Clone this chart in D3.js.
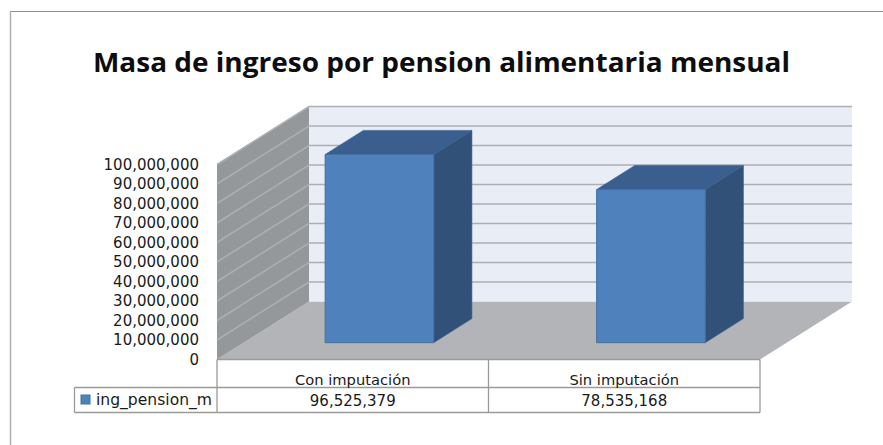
<!DOCTYPE html>
<html>
<head>
<meta charset="utf-8">
<script src="https://cdn.jsdelivr.net/npm/d3@7"></script>
<style>
  html, body { margin: 0; padding: 0; background: #fff; }
  svg { display: block; }
  text { font-family: "DejaVu Sans", sans-serif; fill: #1a1a1a; }
</style>
</head>
<body>
<div id="chart"></div>
<script>
// --------------------------------------------------------
// DATA
// --------------------------------------------------------
const titleText = "Masa de ingreso por pension alimentaria mensual";
const categories = ["Con imputación", "Sin imputación"];
const values = [96525379, 78535168];
const seriesName = "ing_pension_m";
const yTicks = [0, 10000000, 20000000, 30000000, 40000000, 50000000, 60000000, 70000000, 80000000, 90000000, 100000000];

// --------------------------------------------------------
// VARIABLES
// --------------------------------------------------------
const width = 883;
const height = 445;
const depthX = 92; // shift of the back wall
const depthY = -58;
const barDepthStart = 0.29;
const barDepthEnd = 0.705;

const x = d3.scaleBand().domain(categories).range([217, 760]).paddingInner(0.6).paddingOuter(0.3);
const y = d3.scaleLinear().domain([0, 100000000]).range([359.5, 164.5]);
const fmt = d3.format(",");

// front-plane position pushed back by depth d (0 to 1)
const pt = (px, py, d) => [px + d * depthX, py + d * depthY];
const poly = (pts) => d3.line()(pts) + "Z";

const svg = d3.select("#chart").append("svg").attr("width", width).attr("height", height);

// chart frame, only top and left edges are in the picture
svg.append("line")
  .attr("x1", 10).attr("x2", width).attr("y1", 11.5).attr("y2", 11.5)
  .attr("stroke", "#8f8f8f");
svg.append("line")
  .attr("x1", 10.5).attr("x2", 10.5).attr("y1", 11).attr("y2", height)
  .attr("stroke", "#b0b0b0").attr("stroke-width", 1.5);

// the title is stretched sideways in the reference
svg.append("text")
  .attr("x", 441.5).attr("y", 71.5)
  .attr("text-anchor", "middle")
  .attr("font-size", 26).attr("font-weight", 700)
  .attr("textLength", 697).attr("lengthAdjust", "spacingAndGlyphs")
  .style("font-family", '"Open Sans", sans-serif')
  .style("fill", "#0d0d0d")
  .text(titleText);

// --------------------------------------------------------
// WALLS AND FLOOR
// --------------------------------------------------------
const [x0, x1] = x.range();
const [yBase, yTop] = y.range();

// floor
svg.append("path")
  .attr("d", poly([pt(x0, yBase, 0), pt(x1, yBase, 0), pt(x1, yBase, 1), pt(x0, yBase, 1)]))
  .attr("fill", "#b2b4b7");

// back wall
svg.append("path")
  .attr("d", poly([pt(x0, yTop, 1), pt(x1, yTop, 1), pt(x1, yBase, 1), pt(x0, yBase, 1)]))
  .attr("fill", "#e9edf6");

// side wall
svg.append("path")
  .attr("d", poly([pt(x0, yTop, 0), pt(x0, yTop, 1), pt(x0, yBase, 1), pt(x0, yBase, 0)]))
  .attr("fill", "#95989b");

// gridlines run along the side wall and across the back wall
svg.append("g").selectAll("path")
  .data(yTicks.filter((d) => d > 0))
  .join("path")
  .attr("d", (d) => d3.line()([pt(x0, y(d), 0), pt(x0, y(d), 1), pt(x1, y(d), 1)]))
  .attr("fill", "none")
  .attr("stroke", "#adafb3")
  .attr("stroke-width", 1.5);

// --------------------------------------------------------
// BARS
// --------------------------------------------------------
const bars = svg.append("g").selectAll("g")
  .data(categories.map((c, i) => ({ c, v: values[i] })))
  .join("g");

// top face
bars.append("path")
  .attr("d", (d) => {
    const l = x(d.c), r = l + x.bandwidth(), t = y(d.v);
    return poly([pt(l, t, barDepthStart), pt(r, t, barDepthStart), pt(r, t, barDepthEnd), pt(l, t, barDepthEnd)]);
  })
  .attr("fill", "#3a5f8e")
  .attr("stroke", "#3a5f8e")
  .attr("stroke-width", 0.6);

// side face
bars.append("path")
  .attr("d", (d) => {
    const r = x(d.c) + x.bandwidth(), t = y(d.v);
    return poly([pt(r, t, barDepthStart), pt(r, t, barDepthEnd), pt(r, yBase, barDepthEnd), pt(r, yBase, barDepthStart)]);
  })
  .attr("fill", "#315178")
  .attr("stroke", "#3a5f8e")
  .attr("stroke-width", 0.6);

// front face
bars.append("path")
  .attr("d", (d) => {
    const l = x(d.c), r = l + x.bandwidth(), t = y(d.v);
    return poly([pt(l, t, barDepthStart), pt(r, t, barDepthStart), pt(r, yBase, barDepthStart), pt(l, yBase, barDepthStart)]);
  })
  .attr("fill", "#4f81bd")
  .attr("stroke", "#44709f")
  .attr("stroke-width", 1);

// --------------------------------------------------------
// AXIS LABELS
// --------------------------------------------------------
svg.append("g").selectAll("text")
  .data(yTicks)
  .join("text")
  .attr("x", 199)
  .attr("y", (d) => y(d) + 5)
  .attr("text-anchor", "end")
  .attr("font-size", 15)
  .text((d) => fmt(d));

// --------------------------------------------------------
// DATA TABLE
// --------------------------------------------------------
const tableTop = 387.5;
const tableBottom = 412.5;
const tableLeft = 74.5;
const rowLine = "#9a9a9a";
const cuts = [x0, x0 + x.step(), x1];

const table = svg.append("g").attr("stroke", rowLine).attr("stroke-width", 1.3);
table.append("line").attr("x1", tableLeft).attr("x2", x1).attr("y1", tableTop).attr("y2", tableTop);
table.append("line").attr("x1", tableLeft).attr("x2", x1).attr("y1", tableBottom).attr("y2", tableBottom);
table.append("line").attr("x1", x0).attr("x2", x1).attr("y1", yBase).attr("y2", yBase);
table.append("line").attr("x1", tableLeft).attr("x2", tableLeft).attr("y1", tableTop).attr("y2", tableBottom);
table.selectAll("line.cut")
  .data(cuts)
  .join("line")
  .attr("class", "cut")
  .attr("x1", (d) => d).attr("x2", (d) => d)
  .attr("y1", yBase).attr("y2", tableBottom);

svg.append("g").selectAll("text")
  .data(categories)
  .join("text")
  .attr("x", (d) => x(d) + x.bandwidth() / 2)
  .attr("y", 385)
  .attr("text-anchor", "middle")
  .attr("font-size", 14.7)
  .text((d) => d);

svg.append("g").selectAll("text")
  .data(categories.map((c, i) => ({ c, v: values[i] })))
  .join("text")
  .attr("x", (d) => x(d.c) + x.bandwidth() / 2)
  .attr("y", 405.5)
  .attr("text-anchor", "middle")
  .attr("font-size", 15)
  .text((d) => fmt(d.v));

// legend key in the table
svg.append("rect")
  .attr("x", 81).attr("y", 395).attr("width", 9).attr("height", 9)
  .attr("fill", "#4f81bd").attr("stroke", "#44709f");
svg.append("text")
  .attr("x", 96).attr("y", 405)
  .attr("font-size", 15)
  .attr("textLength", 116).attr("lengthAdjust", "spacingAndGlyphs")
  .text(seriesName);
</script>
</body>
</html>
